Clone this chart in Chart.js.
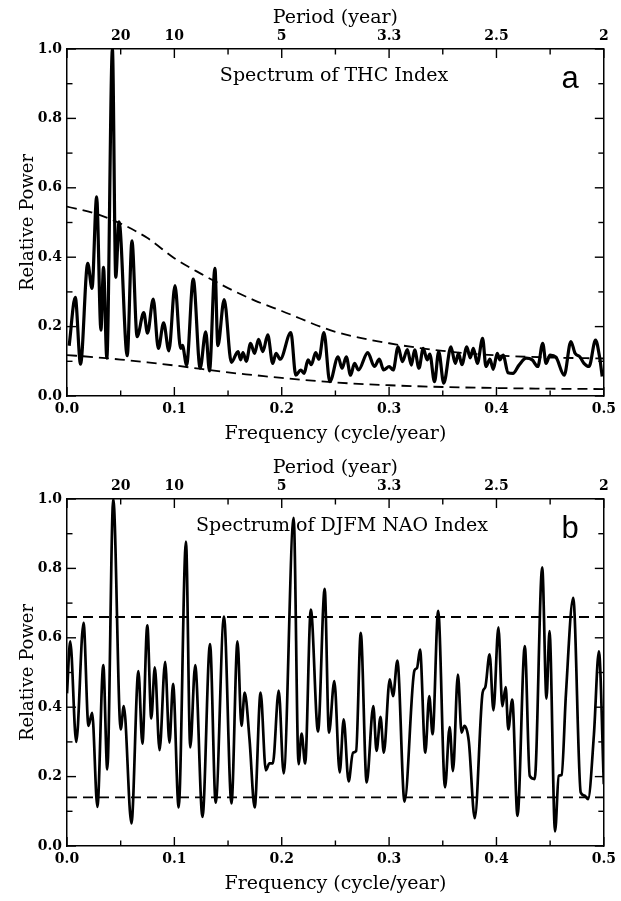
<!DOCTYPE html>
<html>
<head>
<meta charset="utf-8">
<title>Spectrum of THC Index / DJFM NAO Index</title>
<script src="https://cdn.jsdelivr.net/npm/chart.js@4.4.1/dist/chart.umd.min.js"></script>
<style>
  html, body { margin: 0; padding: 0; background: #fff; }
  #wrap { position: relative; width: 621px; height: 901px; }
  canvas { position: absolute; left: 0; }
  #panel-a { top: 0; }
  #panel-b { top: 450px; }
</style>
</head>
<body>
<div id="wrap">
  <canvas id="panel-a" width="621" height="451"></canvas>
  <canvas id="panel-b" width="621" height="451"></canvas>
</div>
<script>
// Panel a: THC index spectrum (frequency in cycle/year, relative power)
const thcFreq = [0.002, 0.0077, 0.0126, 0.0193, 0.0233, 0.0276, 0.0316, 0.034, 0.0371, 0.0423,
    0.0454, 0.0485, 0.0561, 0.0605, 0.0653, 0.0715, 0.075, 0.0803, 0.0851, 0.09,
    0.0949, 0.1006, 0.1058, 0.1075, 0.1114, 0.1176, 0.124, 0.1292, 0.1327, 0.1378,
    0.1405, 0.1464, 0.1531, 0.1593, 0.1617, 0.1639, 0.167, 0.171, 0.1747, 0.1784,
    0.1824, 0.187, 0.1916, 0.1947, 0.1986, 0.2085, 0.2131, 0.2177, 0.2208, 0.2245,
    0.2276, 0.2316, 0.2346, 0.2393, 0.2448, 0.2525, 0.2562, 0.2601, 0.2641, 0.2678,
    0.2715, 0.2801, 0.2863, 0.2909, 0.2949, 0.3001, 0.3038, 0.3084, 0.3124, 0.317,
    0.3207, 0.3238, 0.3278, 0.3318, 0.3355, 0.3379, 0.3423, 0.3462, 0.3509, 0.3576,
    0.3616, 0.3647, 0.3678, 0.3724, 0.3755, 0.3785, 0.3822, 0.3871, 0.3902, 0.3939,
    0.397, 0.4007, 0.4031, 0.4062, 0.4108, 0.4154, 0.421, 0.4277, 0.4333, 0.4385,
    0.4431, 0.4462, 0.4499, 0.4554, 0.4631, 0.4693, 0.4732, 0.4776, 0.4815, 0.4862,
    0.4923, 0.496, 0.4985];
const thcPower = [0.145, 0.284, 0.092, 0.382, 0.31, 0.574, 0.19, 0.371, 0.109, 1.0,
    0.342, 0.502, 0.116, 0.447, 0.171, 0.24, 0.181, 0.279, 0.137, 0.211,
    0.13, 0.318, 0.137, 0.146, 0.089, 0.337, 0.08, 0.185, 0.072, 0.368,
    0.145, 0.278, 0.097, 0.128, 0.104, 0.125, 0.1, 0.152, 0.123, 0.163,
    0.128, 0.176, 0.094, 0.123, 0.106, 0.183, 0.06, 0.075, 0.065, 0.104,
    0.09, 0.125, 0.106, 0.183, 0.041, 0.113, 0.08, 0.113, 0.06, 0.094,
    0.075, 0.125, 0.085, 0.106, 0.075, 0.085, 0.075, 0.142, 0.099, 0.134,
    0.089, 0.133, 0.08, 0.137, 0.104, 0.121, 0.041, 0.128, 0.037, 0.142,
    0.094, 0.123, 0.09, 0.142, 0.11, 0.137, 0.094, 0.166, 0.085, 0.106,
    0.077, 0.123, 0.104, 0.118, 0.067, 0.065, 0.089, 0.109, 0.104, 0.085,
    0.152, 0.094, 0.118, 0.112, 0.06, 0.157, 0.123, 0.113, 0.094, 0.085,
    0.161, 0.113, 0.056];
// Confidence bounds of panel a (dashed)
const thcBoundFreq = [0, 0.025, 0.05, 0.075, 0.1, 0.125, 0.15, 0.175, 0.2, 0.25, 0.3, 0.35, 0.4, 0.45, 0.5];
const thcUpper = [0.546, 0.527, 0.497, 0.455, 0.397, 0.352, 0.311, 0.275, 0.245, 0.185, 0.152, 0.13, 0.117, 0.111, 0.108];
const thcLower = [0.118, 0.112, 0.105, 0.097, 0.088, 0.078, 0.068, 0.06, 0.052, 0.039, 0.031, 0.026, 0.023, 0.021, 0.02];

// Panel b: DJFM NAO index spectrum
const naoFreq = [0, 0.003, 0.0086, 0.0154, 0.02, 0.0234, 0.0283, 0.0338, 0.0375, 0.0431,
    0.05, 0.0529, 0.06, 0.0665, 0.0702, 0.0748, 0.0785, 0.0818, 0.0862, 0.0914,
    0.0954, 0.0988, 0.104, 0.1108, 0.1148, 0.1194, 0.1262, 0.1332, 0.1385, 0.1462,
    0.1532, 0.1588, 0.1625, 0.1655, 0.17, 0.1748, 0.1803, 0.1852, 0.1886, 0.1917,
    0.1972, 0.2018, 0.2111, 0.2157, 0.2185, 0.2218, 0.2271, 0.2338, 0.24, 0.244,
    0.249, 0.254, 0.2577, 0.2623, 0.2663, 0.2693, 0.2736, 0.2791, 0.2853, 0.2883,
    0.292, 0.2951, 0.3006, 0.3037, 0.3077, 0.3144, 0.3236, 0.326, 0.3288, 0.3337,
    0.3374, 0.3405, 0.3457, 0.3521, 0.3564, 0.3595, 0.3641, 0.3675, 0.3702, 0.3742,
    0.3798, 0.3871, 0.3896, 0.3936, 0.3972, 0.4018, 0.4055, 0.4086, 0.411, 0.4147,
    0.4196, 0.4264, 0.431, 0.4356, 0.4426, 0.4466, 0.4494, 0.4546, 0.458, 0.4607,
    0.4647, 0.4715, 0.4785, 0.4822, 0.4853, 0.4908, 0.4954, 0.5];
const naoPower = [0.44, 0.59, 0.3, 0.643, 0.346, 0.384, 0.113, 0.521, 0.221, 1.0,
    0.336, 0.403, 0.065, 0.504, 0.295, 0.636, 0.368, 0.515, 0.276, 0.531,
    0.298, 0.467, 0.111, 0.877, 0.284, 0.521, 0.084, 0.582, 0.125, 0.661,
    0.123, 0.59, 0.346, 0.442, 0.307, 0.111, 0.442, 0.218, 0.238, 0.238,
    0.448, 0.209, 0.946, 0.236, 0.324, 0.238, 0.681, 0.33, 0.741, 0.327,
    0.475, 0.212, 0.365, 0.186, 0.269, 0.274, 0.614, 0.183, 0.403, 0.274,
    0.372, 0.269, 0.48, 0.432, 0.534, 0.128, 0.506, 0.513, 0.566, 0.269,
    0.432, 0.322, 0.678, 0.169, 0.343, 0.216, 0.494, 0.327, 0.346, 0.303,
    0.08, 0.442, 0.458, 0.552, 0.391, 0.63, 0.403, 0.458, 0.336, 0.422,
    0.087, 0.576, 0.202, 0.193, 0.803, 0.425, 0.619, 0.042, 0.202, 0.205,
    0.437, 0.715, 0.154, 0.145, 0.135, 0.322, 0.561, 0.178];
const naoBoundFreq = [0, 0.5];
const naoUpper = [0.66, 0.66];
const naoLower = [0.14, 0.14];

// Top axis: period (year) labels at these frequencies
const periodTickFreq = [0.05, 0.1, 0.2, 0.3, 0.4, 0.5];
const periodTickLabels = ['20', '10', '5', '3.3', '2.5', '2'];

Chart.defaults.font.family = '"DejaVu Serif", serif';
Chart.defaults.color = '#000';

function toPoints(xs, ys) {
    return xs.map((x, i) => ({ x: x, y: ys[i] }));
}

function near(a, b) {
    return Math.abs(a - b) < 1e-6;
}

// draws inward tick marks on all four sides, long ones on labelled values
const inwardTicks = {
    id: 'inwardTicks',
    afterDraw(chart) {
        const ctx = chart.ctx;
        const area = chart.chartArea;
        ctx.save();
        ctx.strokeStyle = '#000';
        ctx.lineWidth = 1.4;
        Object.values(chart.scales).forEach(scale => {
            scale.ticks.forEach(t => {
                const p = scale.getPixelForValue(t.value);
                const major = scale.isHorizontal()
                    ? near(t.value * 10, Math.round(t.value * 10))
                    : near(t.value * 5, Math.round(t.value * 5));
                const len = major ? 9 : 5.5;
                ctx.beginPath();
                if (scale.id === 'x') { ctx.moveTo(p, area.bottom); ctx.lineTo(p, area.bottom - len); }
                if (scale.id === 'x2') { ctx.moveTo(p, area.top); ctx.lineTo(p, area.top + len); }
                if (scale.id === 'y') { ctx.moveTo(area.left, p); ctx.lineTo(area.left + len, p); }
                if (scale.id === 'y2') { ctx.moveTo(area.right, p); ctx.lineTo(area.right - len, p); }
                ctx.stroke();
            });
        });
        ctx.restore();
    }
};

function makePanel(canvasId, title, titleX, letter, series, bounds, lineWidth) {
    const labelPlugin = {
        id: 'panelLabel',
        afterDraw(chart) {
            const ctx = chart.ctx;
            ctx.save();
            ctx.fillStyle = '#000';
            ctx.textBaseline = 'alphabetic';
            ctx.textAlign = 'center';
            ctx.font = '19px "DejaVu Serif"';
            ctx.fillText(title, titleX, 81);
            ctx.font = '31px "Liberation Sans"';
            ctx.fillText(letter, 570, 88);
            ctx.restore();
        }
    };

    const dashed = {
        borderColor: '#000',
        borderWidth: 1.8,
        borderDash: [10, 6],
        pointRadius: 0,
        cubicInterpolationMode: 'monotone',
        fill: false
    };

    new Chart(document.getElementById(canvasId), {
        type: 'line',
        data: {
            datasets: [
                Object.assign({ data: toPoints(bounds[0], bounds[1]) }, dashed),
                Object.assign({ data: toPoints(bounds[0], bounds[2]) }, dashed),
                {
                    data: toPoints(series[0], series[1]),
                    borderColor: '#000',
                    borderWidth: lineWidth,
                    pointRadius: 0,
                    cubicInterpolationMode: 'monotone',
                    fill: false
                }
            ]
        },
        options: {
            responsive: false,
            animation: false,
            devicePixelRatio: 1,
            layout: { padding: 0 },
            plugins: { legend: { display: false }, tooltip: { enabled: false } },
            scales: {
                x: {
                    type: 'linear', position: 'bottom', min: 0, max: 0.5,
                    grid: { display: false, drawTicks: false },
                    border: { display: true, color: '#000', width: 1.5 },
                    ticks: {
                        stepSize: 0.05, autoSkip: false, maxRotation: 0, padding: 5,
                        font: { size: 14, weight: 'bold' },
                        callback: v => near(v * 10, Math.round(v * 10)) ? v.toFixed(1) : ''
                    },
                    title: {
                        display: true, text: 'Frequency (cycle/year)',
                        font: { size: 19 }, padding: { top: 0, bottom: 6 }
                    },
                    afterFit: s => { s.height = 55; }
                },
                x2: {
                    type: 'linear', position: 'top', min: 0, max: 0.5,
                    grid: { display: false, drawTicks: false },
                    border: { display: true, color: '#000', width: 1.5 },
                    ticks: {
                        stepSize: 0.05, autoSkip: false, maxRotation: 0, padding: 4,
                        font: { size: 14, weight: 'bold' },
                        callback: v => {
                            const i = periodTickFreq.findIndex(f => near(f, v));
                            return i >= 0 ? periodTickLabels[i] : '';
                        }
                    },
                    title: {
                        display: true, text: 'Period (year)',
                        font: { size: 19 }, padding: { top: 7, bottom: 0 }
                    },
                    afterFit: s => { s.height = 49; }
                },
                y: {
                    position: 'left', min: 0, max: 1,
                    grid: { display: false, drawTicks: false },
                    border: { display: true, color: '#000', width: 1.5 },
                    ticks: {
                        stepSize: 0.1, padding: 5,
                        font: { size: 14, weight: 'bold' },
                        callback: v => near(v * 5, Math.round(v * 5)) ? v.toFixed(1) : ''
                    },
                    title: {
                        display: true, text: 'Relative Power',
                        font: { size: 18 }, padding: { top: 18, bottom: 0 }
                    },
                    afterFit: s => { s.width = 67; }
                },
                y2: {
                    position: 'right', min: 0, max: 1,
                    grid: { display: false, drawTicks: false },
                    border: { display: true, color: '#000', width: 1.5 },
                    ticks: { stepSize: 0.1, display: false },
                    afterFit: s => { s.width = 13; }
                }
            }
        },
        plugins: [inwardTicks, labelPlugin]
    });
}

makePanel('panel-a', 'Spectrum of THC Index', 334, 'a',
    [thcFreq, thcPower], [thcBoundFreq, thcUpper, thcLower], 3.2);
makePanel('panel-b', 'Spectrum of DJFM NAO Index', 342, 'b',
    [naoFreq, naoPower], [naoBoundFreq, naoUpper, naoLower], 2.7);
</script>
</body>
</html>
